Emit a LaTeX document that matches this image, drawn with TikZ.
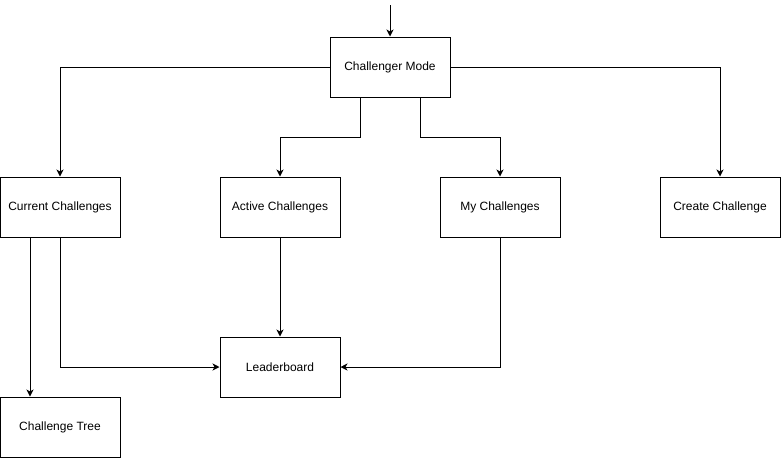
\documentclass[tikz,border=0pt]{standalone}
\usepackage{fontspec}
\setmainfont{Liberation Sans}
\usetikzlibrary{arrows.meta}
\begin{document}
\begin{tikzpicture}[x=1pt,y=-1pt,
  box/.style={draw, line width=1pt, minimum width=120pt, minimum height=60pt, inner sep=0pt, font=\fontsize{12}{14}\selectfont},
  arr/.style={line width=1pt, -{Stealth[length=7pt,width=7pt,inset=2pt]}}]
\useasboundingbox (0,0) rectangle (781,458);

\node[box] (mode) at (390,67) {Challenger Mode};
\node[box] (cur) at (60,207) {Current Challenges};
\node[box] (act) at (280,207) {Active Challenges};
\node[box] (my) at (500,207) {My Challenges};
\node[box] (create) at (720,207) {Create Challenge};
\node[box] (lead) at (280,367) {Leaderboard};
\node[box] (tree) at (60,427) {Challenge Tree};
\coordinate (in) at (390,5);

\draw[arr] (in) -- (mode.north);
\draw[arr] (mode.west) -| (cur.north);
\draw[arr] (mode.east) -| (create.north);
\draw[arr] ([xshift=-30pt]mode.south) -- ++(0,40) -| (act.north);
\draw[arr] ([xshift=30pt]mode.south) -- ++(0,40) -| (my.north);
\draw[arr] (act.south) -- (lead.north);
\draw[arr] (cur.south) |- (lead.west);
\draw[arr] (my.south) |- (lead.east);
\draw[arr] ([xshift=-30pt]cur.south) -- ([xshift=-30pt]tree.north);

\end{tikzpicture}
\end{document}
